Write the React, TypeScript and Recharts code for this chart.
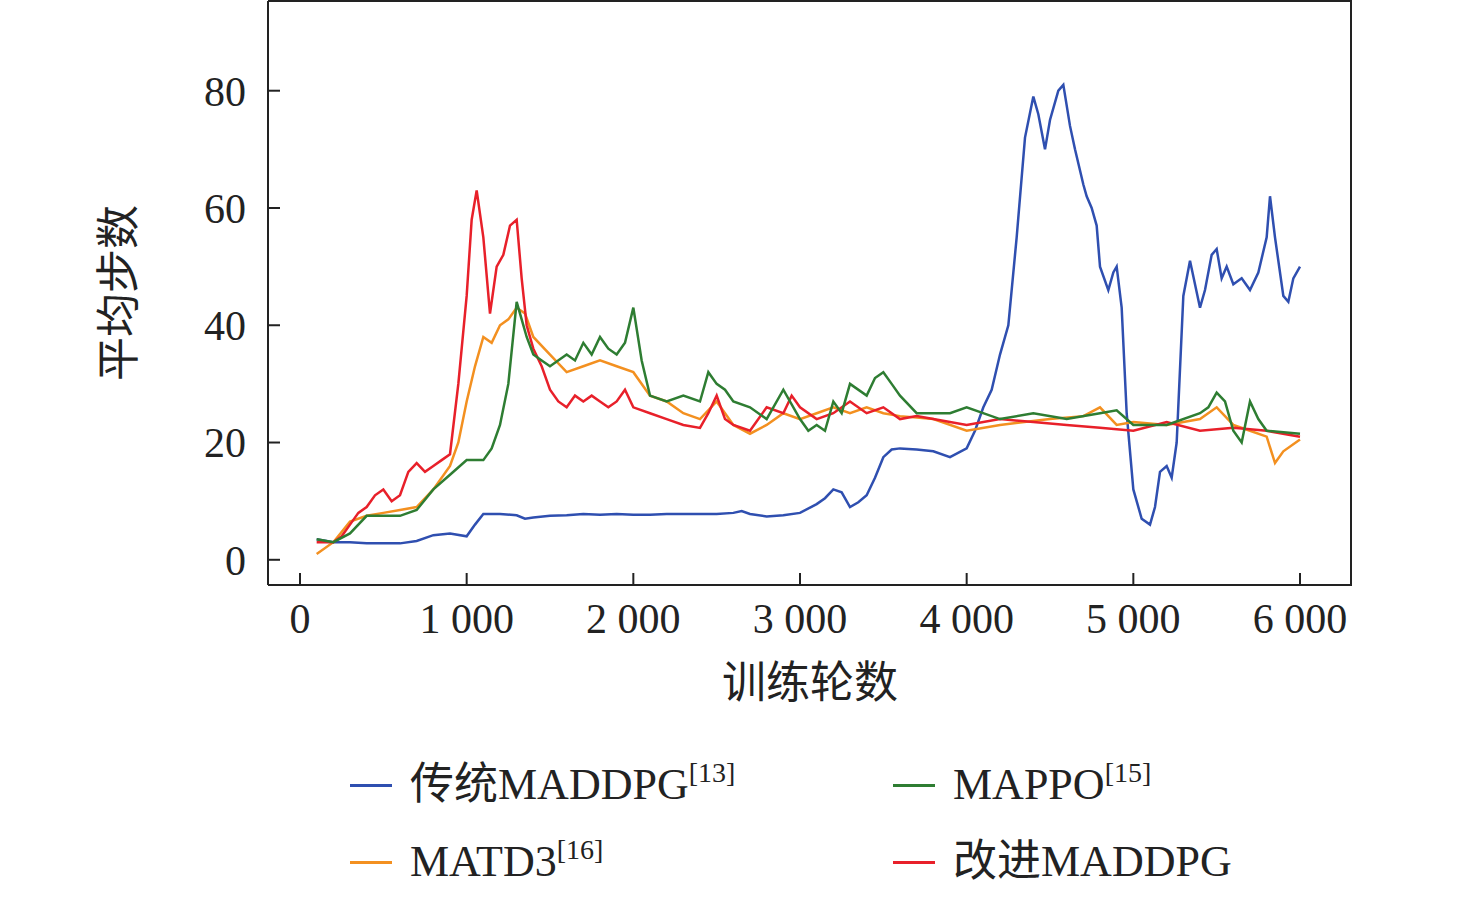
import { LineChart, Line, XAxis, YAxis, Label } from 'recharts';

const BLUE_X = [100,200,300,400,500,600,700,800,900,1000,1050,1100,1200,1300,1350,1400,1500,1600,1700,1800,1900,2000,2100,2200,2300,2400,2500,2600,2650,2700,2800,2900,3000,3100,3150,3200,3250,3300,3350,3400,3450,3500,3550,3600,3700,3800,3900,4000,4050,4100,4150,4200,4250,4300,4350,4400,4430,4470,4500,4550,4580,4620,4650,4700,4720,4750,4780,4800,4850,4880,4900,4930,4960,5000,5050,5100,5130,5160,5200,5230,5260,5300,5340,5370,5400,5430,5470,5500,5530,5560,5600,5650,5700,5750,5800,5820,5850,5900,5930,5960,6000];
const BLUE_Y = [3.5,3,3,2.8,2.8,2.8,3.2,4.2,4.5,4,6,7.8,7.8,7.6,7,7.2,7.5,7.6,7.8,7.7,7.8,7.7,7.7,7.8,7.8,7.8,7.8,8,8.3,7.8,7.4,7.6,8,9.5,10.5,12,11.5,9,9.8,11,14,17.5,18.8,19,18.8,18.5,17.5,19,22,26,29,35,40,55,72,79,76,70,75,80,81,74,70,64,62,60,57,50,46,49,50,43,25,12,7,6,9,15,16,14,20,45,51,47,43,46,52,53,48,50,47,48,46,49,55,62,55,45,44,48,50];

const RED_X = [100,200,250,300,350,400,450,500,550,600,650,700,750,800,850,900,950,1000,1030,1060,1100,1140,1180,1220,1260,1300,1330,1360,1400,1450,1500,1550,1600,1650,1700,1750,1800,1850,1900,1950,2000,2100,2200,2300,2400,2450,2500,2550,2600,2700,2800,2900,2950,3000,3100,3200,3300,3400,3500,3600,3700,3800,4000,4200,4400,4600,4800,5000,5200,5400,5600,5800,6000];
const RED_Y = [3,3,4,6,8,9,11,12,10,11,15,16.5,15,16,17,18,30,45,58,63,55,42,50,52,57,58,48,40,36,33,29,27,26,28,27,28,27,26,27,29,26,25,24,23,22.5,25,28,24,23,22,26,25,28,26,24,25,27,25,26,24,24.5,24,23,24,23.5,23,22.5,22,23.5,22,22.5,22,21];

const ORANGE_X = [100,200,300,400,500,600,700,800,900,950,1000,1050,1100,1150,1200,1250,1300,1350,1400,1500,1600,1700,1800,1900,2000,2100,2200,2300,2400,2500,2600,2700,2800,2900,3000,3100,3200,3300,3400,3500,3600,3800,4000,4200,4500,4700,4800,4900,5000,5200,5400,5500,5600,5700,5800,5850,5900,6000];
const ORANGE_Y = [1,3,6.5,7.5,8,8.5,9,12,16,20,27,33,38,37,40,41,43,42,38,35,32,33,34,33,32,28,27,25,24,27,23,21.5,23,25,24,25,26,25,26,25,24.5,24,22,23,24,24.5,26,23,23.5,23,24,26,23,22,21,16.5,18.5,20.5];

const GREEN_X = [100,200,300,400,500,600,700,800,900,1000,1100,1150,1200,1250,1300,1330,1360,1400,1450,1500,1600,1650,1700,1750,1800,1850,1900,1950,2000,2050,2100,2200,2300,2400,2450,2500,2550,2600,2700,2800,2900,3000,3050,3100,3150,3200,3250,3300,3400,3450,3500,3550,3600,3700,3800,3900,4000,4200,4400,4600,4800,4900,5000,5200,5400,5450,5500,5550,5600,5650,5700,5750,5800,6000];
const GREEN_Y = [3.5,3,4.5,7.5,7.5,7.5,8.5,12,14.5,17,17,19,23,30,44,41,38,35,34,33,35,34,37,35,38,36,35,37,43,34,28,27,28,27,32,30,29,27,26,24,29,24,22,23,22,27,25,30,28,31,32,30,28,25,25,25,26,24,25,24,25,25.5,23,23,25,26,28.5,27,22,20,27,24,22,21.5];

const X_TICKS = [0, 1000, 2000, 3000, 4000, 5000, 6000];
const Y_TICKS = [0, 20, 40, 60, 80];

const SERIF = '"Liberation Serif", "Noto Sans CJK SC", serif';
const zip = (xs: number[], ys: number[]) => xs.map((x, i) => ({ x, y: ys[i] }));
const fmt = (v: number) => (v >= 1000 ? `${v / 1000} 000` : `${v}`);

const SERIES = [
  { name: 'blue', color: '#2f4fb0', data: zip(BLUE_X, BLUE_Y) },
  { name: 'orange', color: '#f39020', data: zip(ORANGE_X, ORANGE_Y) },
  { name: 'red', color: '#e8202a', data: zip(RED_X, RED_Y) },
  { name: 'green', color: '#2e7d32', data: zip(GREEN_X, GREEN_Y) },
];

const LEGEND = [
  { label: '传统MADDPG', sup: '[13]', color: '#2f4fb0', left: 350, top: 755 },
  { label: 'MAPPO', sup: '[15]', color: '#2e7d32', left: 893, top: 755 },
  { label: 'MATD3', sup: '[16]', color: '#f39020', left: 350, top: 832 },
  { label: '改进MADDPG', sup: '', color: '#e8202a', left: 893, top: 832 },
];

export default function App() {
  const tick = { fill: '#222', fontSize: 42, fontFamily: SERIF };
  return (
    <div style={{ position: 'absolute', left: 0, top: 0, width: 1476, height: 897, background: '#fff', fontFamily: SERIF }}>
      <LineChart width={1476} height={897} margin={{ top: 1, left: 0, right: 124, bottom: 0 }}>
        <XAxis type="number" dataKey="x" domain={[-192, 6312]} ticks={X_TICKS} tickFormatter={fmt}
          allowDuplicatedCategory={false} stroke="#222" strokeWidth={2} tickSize={-12} tickMargin={30} tick={tick} height={312}>
          <Label value="训练轮数" position="insideTop" offset={82} style={{ fontSize: 44, fill: '#222', fontFamily: SERIF }} />
        </XAxis>
        <YAxis type="number" domain={[-4.3, 95.3]} ticks={Y_TICKS} stroke="#222" strokeWidth={2}
          tickSize={-12} tickMargin={34} tick={tick} width={268} allowDataOverflow>
          <Label value="平均步数" angle={-90} position="insideLeft" offset={118} style={{ fontSize: 44, fill: '#222', fontFamily: SERIF, textAnchor: 'middle' }} />
        </YAxis>
        {SERIES.map((s) => (
          <Line key={s.name} data={s.data} dataKey="y" type="linear" stroke={s.color} strokeWidth={2.5}
            dot={false} isAnimationActive={false} />
        ))}
      </LineChart>
      <div style={{ position: 'absolute', left: 268, top: 0, width: 1084, height: 585, border: '2px solid #222', borderLeft: 'none', borderBottom: 'none', boxSizing: 'border-box', pointerEvents: 'none' }} />
      {LEGEND.map((l) => (
        <div key={l.label} style={{ position: 'absolute', left: l.left, top: l.top, height: 60, lineHeight: '60px', display: 'flex', alignItems: 'center', fontSize: 44, color: '#222', whiteSpace: 'nowrap' }}>
          <span style={{ display: 'inline-block', width: 42, height: 3, background: l.color, marginRight: 18 }} />
          <span style={{ lineHeight: '60px' }}>{l.label}</span>
          {l.sup && <span style={{ fontSize: 28, lineHeight: '60px', position: 'relative', top: -12 }}>{l.sup}</span>}
        </div>
      ))}
    </div>
  );
}
